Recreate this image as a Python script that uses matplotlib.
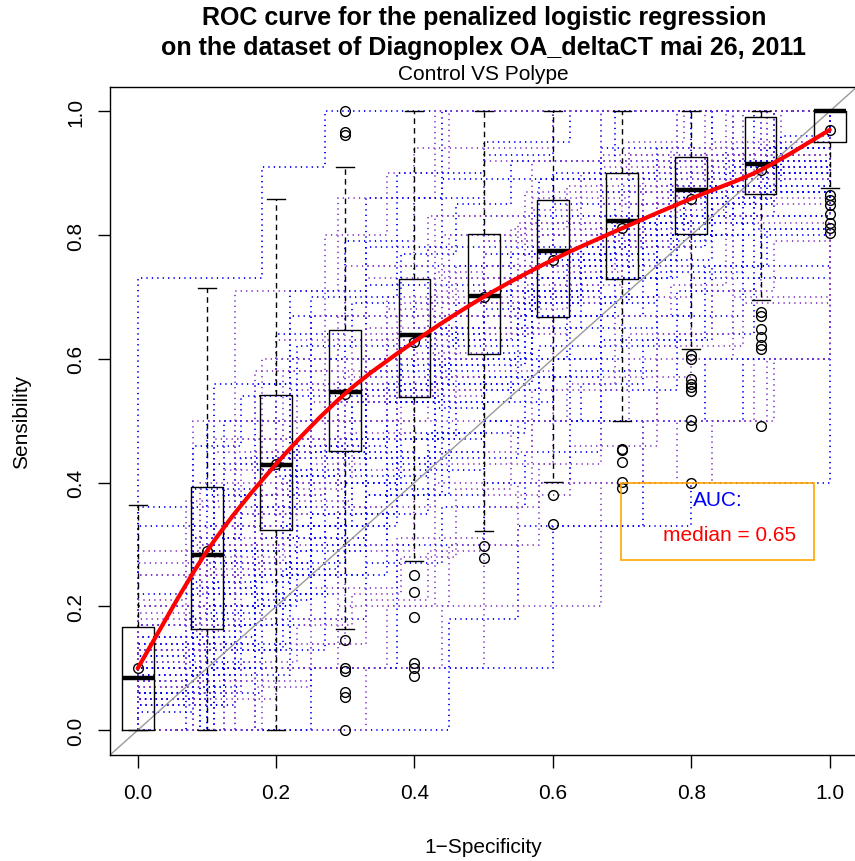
import matplotlib
matplotlib.use("Agg")
import matplotlib.pyplot as plt
from matplotlib.patches import Rectangle, PathPatch
from matplotlib.path import Path

plt.rcParams['font.family'] = ['Liberation Sans', 'DejaVu Sans']

# grid of 1-specificity where the boxplots sit
fpr_grid = [0.0, 0.1, 0.2, 0.3, 0.4, 0.5, 0.6, 0.7, 0.8, 0.9, 1.0]

# boxplot stats
box_q1 = [0.0, 0.164, 0.324, 0.451, 0.538, 0.608, 0.667, 0.729, 0.801, 0.866, 0.951]
box_med = [0.084, 0.283, 0.428, 0.546, 0.638, 0.701, 0.775, 0.822, 0.872, 0.915, 1.0]
box_q3 = [0.167, 0.393, 0.541, 0.646, 0.729, 0.801, 0.857, 0.901, 0.926, 0.991, 1.0]
whisk_lo = [0.0, 0.0, 0.0, 0.164, 0.274, 0.322, 0.401, 0.500, 0.616, 0.695, 0.876]
whisk_hi = [0.364, 0.715, 0.858, 0.910, 1.0, 1.0, 1.0, 1.0, 1.0, 1.0, 1.0]
outliers = [
    [],
    [],
    [],
    [1.0, 0.967, 0.962, 0.145, 0.101, 0.095, 0.062, 0.053, 0.0],
    [0.251, 0.223, 0.183, 0.108, 0.100, 0.088],
    [0.297, 0.278],
    [0.380, 0.333],
    [0.455, 0.452, 0.434, 0.401, 0.391],
    [0.607, 0.600, 0.567, 0.560, 0.554, 0.548, 0.501, 0.492, 0.400],
    [0.676, 0.670, 0.649, 0.636, 0.622, 0.616, 0.491],
    [0.865, 0.857, 0.849, 0.834, 0.819, 0.811, 0.803],
]

# mean sensitivity at each grid point (red curve)
mean_sens = [0.100, 0.289, 0.430, 0.544, 0.628, 0.700, 0.760, 0.811, 0.859, 0.905, 0.970]

# individual cross-validation ROC curves (steps)
fpr_5 = [0, .2, .4, .6, .8, 1]
fpr_6 = [0, .17, .33, .5, .67, .83, 1]
fpr_7 = [0, .14, .29, .43, .57, .71, .86, 1]
fpr_8 = [0, .125, .25, .375, .5, .625, .75, .875, 1]
fpr_9 = [0, .11, .22, .33, .44, .56, .67, .78, .89, 1]
fpr_10 = [0, .1, .2, .3, .4, .5, .6, .7, .8, .9, 1]
fpr_11 = [0, .09, .18, .27, .36, .45, .55, .64, .73, .82, .91, 1]
fpr_12 = [0, .08, .17, .25, .33, .42, .5, .58, .67, .75, .83, .92, 1]
fpr_13 = [0, .08, .15, .23, .31, .38, .46, .54, .62, .69, .77, .85, .92, 1]
fpr_14 = [0, .07, .14, .21, .29, .36, .43, .5, .57, .64, .71, .79, .86, .93, 1]

roc_curves = [
    (fpr_11, [0.73, 0.73, 0.91, 1, 1, 1, 1, 1, 1, 1, 1, 1]),
    (fpr_7, [0.29, 0.71, 0.86, 1, 1, 1, 1, 1]),
    (fpr_10, [0.36, 0.5, 0.64, 0.79, 0.86, 0.93, 1, 1, 1, 1, 1]),
    (fpr_9, [0.2, 0.47, 0.6, 0.73, 0.8, 0.87, 0.93, 1, 1, 1]),
    (fpr_12, [0.17, 0.39, 0.56, 0.67, 0.72, 0.78, 0.83, 0.89, 0.94, 0.94, 1, 1, 1]),
    (fpr_8, [0.13, 0.38, 0.5, 0.63, 0.75, 0.81, 0.88, 0.94, 1]),
    (fpr_10, [0.15, 0.38, 0.54, 0.62, 0.69, 0.77, 0.85, 0.92, 0.92, 1, 1]),
    (fpr_11, [0.1, 0.3, 0.5, 0.6, 0.7, 0.8, 0.8, 0.9, 0.9, 1, 1, 1]),
    (fpr_6, [0.14, 0.36, 0.57, 0.71, 0.79, 0.93, 1]),
    (fpr_9, [0.08, 0.31, 0.46, 0.54, 0.69, 0.77, 0.85, 0.92, 0.92, 1]),
    (fpr_10, [0.09, 0.27, 0.45, 0.55, 0.64, 0.73, 0.82, 0.82, 0.91, 0.91, 1]),
    (fpr_12, [0.07, 0.2, 0.4, 0.53, 0.6, 0.67, 0.73, 0.8, 0.87, 0.87, 0.93, 1, 1]),
    (fpr_7, [0.06, 0.25, 0.44, 0.56, 0.69, 0.75, 0.88, 0.94]),
    (fpr_8, [0.09, 0.27, 0.36, 0.55, 0.64, 0.73, 0.82, 0.91, 0.91]),
    (fpr_11, [0.08, 0.23, 0.38, 0.46, 0.54, 0.62, 0.69, 0.77, 0.85, 0.85, 0.92, 1]),
    (fpr_10, [0.06, 0.22, 0.33, 0.5, 0.61, 0.67, 0.72, 0.78, 0.83, 0.89, 0.94]),
    (fpr_9, [0, 0.2, 0.33, 0.47, 0.6, 0.67, 0.73, 0.8, 0.87, 0.93]),
    (fpr_12, [0, 0.14, 0.29, 0.43, 0.5, 0.57, 0.64, 0.71, 0.79, 0.86, 0.86, 0.93, 1]),
    (fpr_8, [0, 0.17, 0.33, 0.42, 0.5, 0.58, 0.67, 0.83, 0.92]),
    (fpr_10, [0.08, 0.17, 0.25, 0.42, 0.5, 0.58, 0.67, 0.75, 0.83, 0.92, 1]),
    (fpr_11, [0, 0.11, 0.22, 0.33, 0.44, 0.56, 0.67, 0.67, 0.78, 0.89, 0.89, 1]),
    (fpr_7, [0, 0.1, 0.2, 0.4, 0.5, 0.6, 0.7, 0.8]),
    (fpr_9, [0, 0.09, 0.18, 0.27, 0.36, 0.45, 0.55, 0.64, 0.73, 0.82]),
    (fpr_10, [0, 0, 0.14, 0.29, 0.43, 0.43, 0.57, 0.57, 0.71, 0.86, 0.86]),
    (fpr_11, [0, 0, 0, 0, 0, 0.18, 0.33, 0.33, 0.5, 0.6, 0.6, 0.6]),
    (fpr_12, [0, 0, 0.1, 0.1, 0.1, 0.1, 0.3, 0.4, 0.4, 0.4, 0.5, 0.6, 0.8]),
    (fpr_6, [0, 0.25, 0.38, 0.5, 0.63, 0.75, 0.88]),
    (fpr_8, [0.25, 0.42, 0.58, 0.67, 0.75, 0.83, 0.92, 1, 1]),
    (fpr_9, [0.13, 0.33, 0.47, 0.6, 0.67, 0.73, 0.87, 0.93, 1, 1]),
    (fpr_10, [0.1, 0.3, 0.4, 0.5, 0.6, 0.7, 0.8, 0.8, 0.9, 0.9, 1]),
    (fpr_12, [0.11, 0.33, 0.44, 0.56, 0.67, 0.72, 0.78, 0.83, 0.89, 0.94, 1, 1, 1]),
    (fpr_11, [0.18, 0.36, 0.45, 0.55, 0.64, 0.73, 0.82, 0.82, 0.91, 0.91, 1, 1]),
    (fpr_7, [0.13, 0.33, 0.53, 0.6, 0.73, 0.8, 0.87, 0.93]),
    (fpr_10, [0.05, 0.2, 0.35, 0.45, 0.55, 0.65, 0.75, 0.8, 0.85, 0.9, 0.95]),
    (fpr_9, [0.05, 0.14, 0.29, 0.38, 0.48, 0.57, 0.62, 0.71, 0.81, 0.86]),
    (fpr_8, [0, 0.08, 0.23, 0.31, 0.38, 0.46, 0.62, 0.69, 0.77]),
    (fpr_13, [0.12, 0.24, 0.35, 0.47, 0.53, 0.59, 0.65, 0.71, 0.76, 0.82, 0.88, 0.94, 1, 1]),
    (fpr_13, [0.05, 0.16, 0.26, 0.37, 0.47, 0.53, 0.63, 0.68, 0.74, 0.79, 0.84, 0.89, 0.95, 1]),
    (fpr_13, [0, 0.07, 0.2, 0.33, 0.4, 0.47, 0.53, 0.6, 0.67, 0.73, 0.8, 0.87, 0.87, 0.93]),
    (fpr_13, [0.19, 0.31, 0.44, 0.56, 0.63, 0.69, 0.75, 0.81, 0.88, 0.88, 0.94, 1, 1, 1]),
    (fpr_13, [0.08, 0.31, 0.38, 0.46, 0.54, 0.62, 0.69, 0.77, 0.77, 0.85, 0.92, 0.92, 1, 1]),
    (fpr_14, [0.1, 0.2, 0.3, 0.4, 0.5, 0.55, 0.6, 0.65, 0.7, 0.75, 0.8, 0.85, 0.9, 0.95, 1]),
    (fpr_14, [0.06, 0.18, 0.29, 0.41, 0.47, 0.53, 0.59, 0.65, 0.71, 0.76, 0.82, 0.88, 0.94, 0.94, 1]),
    (fpr_14, [0.14, 0.29, 0.43, 0.5, 0.57, 0.64, 0.71, 0.79, 0.86, 0.86, 0.93, 0.93, 1, 1, 1]),
    (fpr_14, [0, 0.04, 0.13, 0.22, 0.3, 0.39, 0.48, 0.57, 0.65, 0.7, 0.78, 0.83, 0.87, 0.91, 0.96]),
    (fpr_14, [0.21, 0.37, 0.47, 0.58, 0.63, 0.68, 0.74, 0.79, 0.84, 0.89, 0.95, 1, 1, 1, 1]),
    (fpr_5, [0.1, 0.45, 0.65, 0.8, 0.9, 1]),
    (fpr_5, [0.05, 0.3, 0.55, 0.7, 0.85, 0.95]),
    (fpr_5, [0.2, 0.6, 0.75, 0.9, 1, 1]),
    (fpr_6, [0.08, 0.31, 0.54, 0.69, 0.85, 0.92, 1]),
    (fpr_6, [0.17, 0.42, 0.58, 0.75, 0.83, 0.92, 1]),
    (fpr_7, [0.1, 0.35, 0.55, 0.65, 0.75, 0.85, 0.9, 1]),
    (fpr_7, [0.22, 0.44, 0.56, 0.67, 0.78, 0.89, 1, 1]),
    (fpr_7, [0, 0.18, 0.36, 0.45, 0.55, 0.64, 0.82, 0.91]),
    (fpr_8, [0.07, 0.27, 0.4, 0.53, 0.67, 0.73, 0.8, 0.87, 0.93]),
    (fpr_8, [0.14, 0.36, 0.5, 0.57, 0.71, 0.79, 0.86, 0.93, 1]),
    (fpr_8, [0.04, 0.22, 0.35, 0.48, 0.57, 0.65, 0.74, 0.83, 0.87]),
    (fpr_9, [0.11, 0.28, 0.44, 0.56, 0.67, 0.72, 0.78, 0.89, 0.94, 1]),
    (fpr_9, [0.06, 0.24, 0.41, 0.53, 0.59, 0.71, 0.76, 0.82, 0.88, 0.94]),
    (fpr_9, [0.27, 0.45, 0.55, 0.64, 0.73, 0.82, 0.91, 1, 1, 1]),
    (fpr_10, [0.12, 0.29, 0.41, 0.53, 0.65, 0.71, 0.76, 0.82, 0.88, 0.94, 1]),
    (fpr_10, [0.04, 0.26, 0.39, 0.48, 0.57, 0.65, 0.74, 0.78, 0.87, 0.91, 0.96]),
    (fpr_10, [0, 0.13, 0.27, 0.4, 0.47, 0.53, 0.6, 0.67, 0.73, 0.8, 0.87]),
    (fpr_10, [0.2, 0.33, 0.47, 0.6, 0.67, 0.73, 0.8, 0.87, 0.93, 1, 1]),
    (fpr_11, [0.06, 0.19, 0.31, 0.44, 0.56, 0.63, 0.69, 0.75, 0.81, 0.88, 0.94, 1]),
    (fpr_11, [0.13, 0.25, 0.38, 0.5, 0.63, 0.69, 0.75, 0.81, 0.88, 0.94, 1, 1]),
    (fpr_11, [0, 0.06, 0.13, 0.25, 0.38, 0.44, 0.5, 0.56, 0.63, 0.75, 0.81, 0.88]),
    (fpr_11, [0.07, 0.33, 0.47, 0.53, 0.6, 0.67, 0.73, 0.8, 0.87, 0.93, 0.93, 1]),
    (fpr_12, [0.09, 0.23, 0.36, 0.45, 0.55, 0.64, 0.68, 0.73, 0.77, 0.82, 0.86, 0.91, 0.95]),
    (fpr_12, [0.15, 0.3, 0.45, 0.55, 0.65, 0.7, 0.75, 0.8, 0.85, 0.9, 0.95, 1, 1]),
    (fpr_12, [0.03, 0.1, 0.21, 0.31, 0.41, 0.48, 0.55, 0.62, 0.69, 0.76, 0.83, 0.9, 0.93]),
    (fpr_12, [0, 0, 0.07, 0.14, 0.21, 0.29, 0.36, 0.43, 0.5, 0.64, 0.71, 0.79, 0.86]),
    (fpr_10, [0, 0.1, 0.1, 0.1, 0.1, 0.1, 0.33, 0.33, 0.4, 0.4, 0.6]),
    (fpr_9, [0, 0, 0, 0.1, 0.2, 0.2, 0.4, 0.5, 0.6, 0.8]),
    (fpr_8, [0, 0, 0.1, 0.3, 0.4, 0.5, 0.5, 0.6, 0.7]),
    (fpr_11, [0, 0, 0.1, 0.1, 0.2, 0.3, 0.4, 0.4, 0.5, 0.5, 0.6, 0.8]),
    (fpr_9, [0.33, 0.56, 0.67, 0.78, 0.89, 0.89, 1, 1, 1, 1]),
    (fpr_12, [0.25, 0.5, 0.58, 0.67, 0.75, 0.83, 0.92, 0.92, 1, 1, 1, 1, 1]),
    (fpr_13, [0.15, 0.46, 0.54, 0.62, 0.69, 0.77, 0.85, 0.92, 0.92, 1, 1, 1, 1, 1]),
    (fpr_14, [0.07, 0.13, 0.27, 0.4, 0.53, 0.6, 0.67, 0.73, 0.8, 0.8, 0.87, 0.87, 0.93, 1, 1]),
    (fpr_9, [0.14, 0.43, 0.71, 0.86, 1, 1, 1, 1, 1, 1]),
    (fpr_11, [0.2, 0.4, 0.6, 0.8, 0.9, 1, 1, 1, 1, 1, 1, 1]),
    (fpr_8, [0.1, 0.5, 0.7, 0.9, 0.95, 1, 1, 1, 1]),
    (fpr_10, [0.13, 0.25, 0.63, 0.75, 0.94, 0.94, 1, 1, 1, 1, 1]),
    (fpr_12, [0.05, 0.15, 0.25, 0.3, 0.35, 0.45, 0.5, 0.6, 0.7, 0.8, 0.85, 0.9, 0.95]),
    (fpr_13, [0, 0.06, 0.11, 0.17, 0.22, 0.28, 0.39, 0.5, 0.56, 0.67, 0.72, 0.83, 0.89, 0.94]),
    (fpr_14, [0.04, 0.09, 0.17, 0.26, 0.35, 0.43, 0.52, 0.61, 0.7, 0.78, 0.83, 0.87, 0.91, 0.96, 1]),
    (fpr_7, [0.17, 0.5, 0.67, 0.83, 0.92, 0.92, 1, 1]),
]
curve_colors = ['blue', '#8a3fc8']

fig = plt.figure(figsize=(8.55, 8.62), dpi=100)
ax = fig.add_axes([110 / 855, 106 / 862, 747.4 / 855, 668.5 / 862])

# ROC curves, dotted
for i, (fx, ty) in enumerate(roc_curves):
    ax.plot([0] + fx, [0] + ty, drawstyle='steps-post',
            color=curve_colors[i % 2], lw=1.3, linestyle=(0, (0.7, 2.3)), zorder=1)

# diagonal
ax.axline((0, 0), (1, 1), color='#999999', lw=1, zorder=2)

stats = []
for i in range(len(fpr_grid)):
    stats.append(dict(med=box_med[i], q1=box_q1[i], q3=box_q3[i],
                      whislo=whisk_lo[i], whishi=whisk_hi[i], fliers=outliers[i]))
ax.bxp(stats, positions=fpr_grid, widths=0.046, capwidths=0.026, manage_ticks=False,
       boxprops=dict(color='black', lw=1),
       medianprops=dict(color='black', lw=3.2),
       whiskerprops=dict(color='black', lw=1, linestyle=(0, (4, 3))),
       capprops=dict(color='black', lw=1),
       flierprops=dict(marker='o', mfc='none', mec='black', ms=7, mew=1),
       zorder=3)

ax.plot(fpr_grid, mean_sens, 'o', mfc='none', mec='black', ms=7, mew=1, zorder=4)

# smooth red curve through the means (Catmull-Rom as cubic Bezier)
pts = list(zip(fpr_grid, mean_sens))
verts = [pts[0]]
codes = [Path.MOVETO]
for i in range(len(pts) - 1):
    p0 = pts[max(i - 1, 0)]
    p1 = pts[i]
    p2 = pts[i + 1]
    p3 = pts[min(i + 2, len(pts) - 1)]
    c1 = (p1[0] + (p2[0] - p0[0]) / 6, p1[1] + (p2[1] - p0[1]) / 6)
    c2 = (p2[0] - (p3[0] - p1[0]) / 6, p2[1] - (p3[1] - p1[1]) / 6)
    verts += [c1, c2, p2]
    codes += [Path.CURVE4] * 3
ax.add_patch(PathPatch(Path(verts, codes), fill=False, edgecolor='red', lw=3,
                       capstyle='round', zorder=5))

# legend box
ax.add_patch(Rectangle((0.699, 0.275), 0.278, 0.125, fill=False,
                       edgecolor='orange', lw=1.2, zorder=6))
ax.text(0.838, 0.372, "AUC:", color='blue', fontsize=15, ha='center', va='center', zorder=7)
ax.text(0.855, 0.316, "median = 0.65", color='red', fontsize=15, ha='center', va='center', zorder=7)

ax.set_xlim(-0.04, 1.04)
ax.set_ylim(-0.04, 1.04)
ax.set_xticks(fpr_grid[::2])
ax.set_yticks(fpr_grid[::2])
ax.set_xticklabels(["0.0", "0.2", "0.4", "0.6", "0.8", "1.0"])
ax.set_yticklabels(["0.0", "0.2", "0.4", "0.6", "0.8", "1.0"], rotation=90, va='center')
ax.tick_params(length=9, width=1, labelsize=15, pad=11)
ax.tick_params(axis='y', pad=9)
for s in ax.spines.values():
    s.set_linewidth(1)

cx = (110 + 747.4 / 2) / 855
fig.text(cx, 1 - 18 / 862, "ROC curve for the penalized logistic regression",
         ha='center', va='center', fontsize=18, fontweight='bold')
fig.text(cx, 1 - 48 / 862, "on the dataset of Diagnoplex OA_deltaCT mai 26, 2011",
         ha='center', va='center', fontsize=18, fontweight='bold')
fig.text(cx, 1 - 74 / 862, "Control VS Polype", ha='center', va='center', fontsize=15)
fig.text(cx, 1 - 848 / 862, "1\u2212Specificity", ha='center', va='center', fontsize=15)
fig.text(22 / 855, 1 - 422 / 862, "Sensibility", ha='center', va='center',
         fontsize=15, rotation=90)

fig.savefig("out.png", dpi=100)
